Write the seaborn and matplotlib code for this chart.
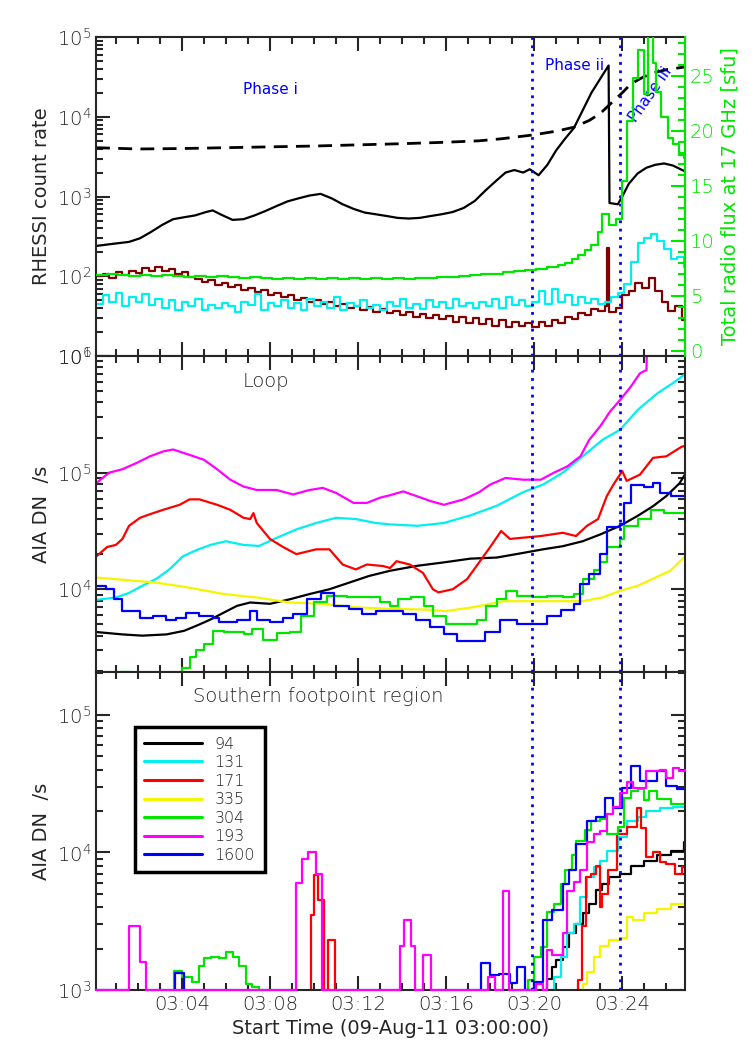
import matplotlib
matplotlib.use("Agg")
import matplotlib.pyplot as plt
import seaborn as sns
from matplotlib.ticker import MultipleLocator, FuncFormatter, LogLocator

sns.set_style("ticks")
plt.rcParams["font.family"] = ["DejaVu Sans"]
plt.rcParams["font.weight"] = "light"

# ---- time axis (minutes after 03:00:00) ----
phase_lines = [19.9, 23.9]

# ---- top panel: RHESSI + radio ----
hxr_lo_t = [0.1, 0.6, 1.1, 1.6, 2.1, 2.6, 3.1, 3.6, 4.1, 4.6, 5.1, 5.4, 5.8, 6.3, 6.8, 7.3, 7.8, 8.3,
            8.8, 9.3, 9.8, 10.3, 10.8, 11.3, 11.8, 12.3, 12.8, 13.3, 13.8, 14.3, 14.8, 15.3, 15.8,
            16.3, 16.8, 17.3, 17.8, 18.3, 18.7, 19.1, 19.5, 19.8, 20.2, 20.6, 21.0, 21.4, 21.8, 22.2,
            22.6, 23.0, 23.38, 23.42, 23.8, 24.0, 24.3, 24.7, 25.1, 25.5, 25.9, 26.3, 26.8]
hxr_lo = [240, 250, 260, 270, 300, 360, 440, 520, 550, 580, 640, 670, 590, 510, 520, 580, 660, 760,
          870, 950, 1030, 1080, 950, 800, 700, 630, 600, 570, 540, 530, 540, 570, 600,
          640, 720, 880, 1200, 1600, 2000, 2150, 2000, 2200, 1850, 2500, 3800, 5300, 7200, 12000,
          20000, 30000, 44000, 830, 800, 1000, 1450, 1950, 2300, 2500, 2600, 2450, 2100]

bkg_t = [0.1, 2, 4, 6, 8, 10, 12, 14, 16, 17.5, 18.5, 19.9, 21, 21.8, 22.5, 23.0, 23.4, 24.0,
         24.4, 25.0, 25.5, 26.0, 26.8]
bkg = [4100, 3950, 4000, 4100, 4200, 4300, 4450, 4600, 4800, 5000, 5300, 5900, 6600, 7400, 9000,
       11000, 14000, 20000, 26000, 32000, 36000, 39000, 42000]

hxr_mid_t = [0.1, 0.4, 0.7, 1.0, 1.3, 1.6, 1.9, 2.2, 2.5, 2.8, 3.1, 3.4, 3.7, 4.0, 4.3, 4.6, 4.9,
             5.2, 5.5, 5.8, 6.1, 6.4, 6.7, 7.0, 7.3, 7.6, 7.9, 8.2, 8.5, 8.8, 9.1, 9.4, 9.7, 10.0,
             10.3, 10.6, 10.9, 11.2, 11.5, 11.8, 12.1, 12.4, 12.7, 13.0, 13.3, 13.6, 13.9, 14.2,
             14.5, 14.8, 15.1, 15.4, 15.7, 16.0, 16.3, 16.6, 16.9, 17.2, 17.5, 17.8, 18.1, 18.4,
             18.7, 19.0, 19.3, 19.6, 19.9, 20.2, 20.5, 20.8, 21.1, 21.4, 21.7, 22.0, 22.3, 22.6,
             22.9, 23.2, 23.3, 23.4, 23.7, 24.0, 24.3, 24.6, 24.9, 25.2, 25.5, 25.8, 26.1, 26.4,
             26.7, 27.0]
hxr_mid = [100, 108, 96, 112, 104, 118, 110, 128, 118, 130, 115, 122, 106, 112, 98, 92, 86,
           90, 78, 82, 74, 78, 68, 72, 64, 67, 58, 62, 55, 58, 50, 54, 47, 50,
           45, 47, 42, 45, 40, 43, 38, 41, 36, 39, 35, 37, 33, 36,
           31, 34, 30, 33, 29, 32, 27, 31, 26, 30, 25, 29, 24, 28,
           23, 27, 24, 26, 23, 27, 24, 28, 26, 31, 29, 35, 33, 39,
           37, 42, 225, 36, 40, 58, 66, 82, 72, 94, 66, 48, 37, 42,
           28, 28]

hxr_hi_t = [0.1, 0.4, 0.7, 1.0, 1.3, 1.6, 1.9, 2.2, 2.5, 2.8, 3.1, 3.4, 3.7, 4.0, 4.3, 4.6, 4.9,
            5.2, 5.5, 5.8, 6.1, 6.4, 6.7, 7.0, 7.3, 7.6, 7.9, 8.2, 8.5, 8.8, 9.1, 9.4, 9.7, 10.0,
            10.3, 10.6, 10.9, 11.2, 11.5, 11.8, 12.1, 12.4, 12.7, 13.0, 13.3, 13.6, 13.9, 14.2,
            14.5, 14.8, 15.1, 15.4, 15.7, 16.0, 16.3, 16.6, 16.9, 17.2, 17.5, 17.8, 18.1, 18.4,
            18.7, 19.0, 19.3, 19.6, 19.9, 20.2, 20.5, 20.8, 21.1, 21.4, 21.7, 22.0, 22.3, 22.6,
            22.9, 23.2, 23.5, 23.8, 24.1, 24.4, 24.7, 25.0, 25.3, 25.6, 25.9, 26.2, 26.5, 26.8, 27.0]
hxr_hi = [45, 58, 48, 62, 42, 55, 47, 60, 44, 52, 40, 50, 38, 48, 42, 52, 38,
          44, 40, 46, 42, 36, 48, 44, 60, 38, 46, 42, 50, 40, 46, 38, 52, 42,
          48, 40, 55, 38, 46, 42, 50, 40, 44, 38, 48, 42, 52, 40,
          45, 39, 50, 41, 47, 40, 52, 42, 46, 40, 48, 42, 52, 40,
          55, 44, 50, 42, 48, 65, 45, 70, 48, 58, 44, 55, 46, 52,
          45, 48, 55, 62, 80, 150, 260, 300, 340, 280, 220, 165, 175, 130, 130]

radio_t = [0.1, 0.6, 1.1, 1.6, 2.1, 2.6, 3.1, 3.6, 4.1, 4.6, 5.1, 5.6, 6.1, 6.6, 7.1, 7.6, 8.1,
           8.6, 9.1, 9.6, 10.1, 10.6, 11.1, 11.6, 12.1, 12.6, 13.1, 13.6, 14.1, 14.6, 15.1, 15.6,
           16.1, 16.6, 17.1, 17.6, 18.1, 18.6, 19.1, 19.6, 20.1, 20.6, 21.1, 21.4, 21.7, 22.0,
           22.3, 22.6, 22.9, 23.1, 23.4, 23.7, 24.0, 24.2, 24.5, 24.7, 25.0, 25.15, 25.4, 25.55,
           25.75, 26.1, 26.3, 26.6, 26.8, 27.0]
radio = [6.9, 7.0, 6.9, 6.8, 6.9, 6.8, 6.9, 6.8, 6.7, 6.8, 6.7, 6.8, 6.7, 6.6, 6.7, 6.6, 6.5,
         6.6, 6.5, 6.6, 6.5, 6.6, 6.5, 6.6, 6.5, 6.6, 6.5, 6.6, 6.5, 6.6, 6.6, 6.7,
         6.7, 6.8, 6.9, 7.0, 7.0, 7.1, 7.2, 7.3, 7.4, 7.6, 7.8, 8.0, 8.3, 8.7,
         9.1, 9.6, 10.8, 12.4, 11.4, 12.0, 15.4, 20.9, 24.8, 27.3, 23.3, 30.0, 26.1, 23.5,
         21.2, 19.3, 18.8, 17.8, 17.5, 17.5]

# ---- middle panel: loop ----
l94_t = [0.1, 1.3, 2.2, 3.3, 4.1, 4.7, 5.3, 5.9, 6.5, 7.1, 8.0, 8.9, 9.8, 10.7, 11.6, 12.5, 13.45,
         14.7, 15.9, 17.1, 18.3, 19.5, 20.4, 21.3, 22.2, 23.0, 23.9, 24.7, 25.4, 26.0, 26.6, 26.9]
l94 = [4300, 4100, 4000, 4100, 4400, 4900, 5500, 6300, 7200, 7700, 7500, 8200, 9100, 10000, 11400,
       13000, 14400, 15900, 17000, 18300, 18700, 20500, 22000, 23400, 25800, 29500, 35000, 42600,
       51600, 63000, 81000, 100000]

l131_t = [0.1, 1.0, 1.6, 2.2, 2.85, 3.45, 4.05, 4.7, 5.3, 6.0, 6.8, 7.5, 8.3, 9.2, 10.1, 11.0, 11.9,
          12.8, 13.45, 14.7, 15.9, 17.1, 18.3, 19.5, 20.4, 21.3, 22.2, 23.1, 23.9, 24.7, 25.6, 26.3,
          26.9]
l131 = [8100, 8500, 9300, 10700, 12300, 14900, 19200, 21800, 24000, 25800, 24000, 23500, 27600,
        32600, 37000, 41000, 40000, 37000, 36000, 35000, 37000, 43000, 52000, 68000, 79000,
        100000, 138000, 191000, 233000, 345000, 480000, 585000, 710000]

l171_t = [0.1, 0.6, 1.0, 1.3, 1.6, 2.1, 2.55, 3.15, 3.9, 4.35, 4.8, 5.6, 6.2, 6.8, 7.1, 7.25, 7.4,
          8.0, 8.6, 9.2, 10.1, 10.7, 11.3, 11.9, 12.4, 13.15, 13.45, 13.75, 14.35, 14.95, 15.4,
          15.65, 16.3, 16.95, 17.5, 18.0, 18.5, 18.9, 19.5, 20.3, 21.3, 21.9, 22.4, 22.9, 23.3,
          23.6, 24.0, 24.2, 24.8, 25.4, 26.0, 26.7, 26.9]
l171 = [19000, 23000, 24000, 27000, 35000, 41000, 44000, 48000, 53000, 59000, 59000, 53000, 48000,
        41000, 40000, 45000, 37000, 27000, 23000, 20000, 22000, 22000, 16300, 14800, 16300, 15800,
        15200, 17400, 16300, 13800, 10000, 9400, 10000, 12200, 17000, 23000, 31600, 27000, 27700,
        28600, 30500, 28600, 35000, 40000, 63000, 79000, 103000, 85000, 96000, 134000, 138000,
        167000, 170000]

l335_t = [0.1, 2.85, 4.35, 5.9, 7.4, 8.9, 10.4, 11.9, 13.45, 15.0, 16.0, 17.2, 18.6, 19.8, 21.0,
          22.2, 23.1, 23.9, 24.7, 25.4, 26.2, 26.9]
l335 = [12600, 11400, 10300, 9100, 8500, 7700, 7500, 7000, 6800, 6700, 6500, 7000, 7900, 7900,
        7900, 7900, 8500, 9700, 10700, 12300, 14500, 19500]

l304_t = [0.1, 1.2, 1.7, 4.0, 4.35, 4.65, 5.0, 5.4, 5.9, 6.3, 6.8, 7.2, 7.7, 8.3, 8.9, 9.4, 10.0,
          10.6, 11.5, 12.2, 13.0, 13.45, 13.8, 14.4, 15.0, 15.4, 16.0, 16.8, 17.4, 17.8, 18.3, 18.7,
          19.2, 19.95, 20.6, 21.3, 21.8, 22.2, 22.7, 23.0, 23.3, 23.9, 24.1, 24.7, 25.3, 25.9, 27.0]
l304 = [1500, 1960, 1500, 2100, 2600, 3000, 3400, 4400, 4300, 4300, 4100, 4600, 3700, 4200, 4300,
        5900, 7700, 8700, 8500, 8500, 7700, 7200, 8200, 8500, 7200, 5900, 5000, 5000, 5400, 7200,
        8200, 9700, 8700, 8500, 8700, 8500, 9100, 12200, 14500, 17000, 23000, 27000, 35000, 40000,
        48000, 45000, 48000]

l193_t = [0.1, 0.7, 1.3, 1.9, 2.55, 3.15, 3.6, 4.35, 5.0, 5.6, 6.2, 6.8, 7.4, 8.3, 9.05, 9.8, 10.4,
          11.0, 11.8, 12.4, 13.0, 13.45, 14.05, 14.65, 15.3, 15.9, 16.8, 17.5, 18.0, 18.7, 19.5,
          20.3, 20.9, 21.5, 22.1, 22.5, 23.0, 23.45, 23.9, 24.4, 24.8, 25.1, 25.15]
l193 = [81000, 100000, 107000, 120000, 138000, 152000, 158000, 142000, 129000, 107000, 87000,
        76000, 71000, 71000, 65000, 71000, 74000, 67000, 55000, 55000, 61000, 64000, 69000, 63000,
        57000, 53000, 59000, 68000, 79000, 90000, 87000, 87000, 100000, 113000, 138000, 191000,
        250000, 335000, 420000, 550000, 710000, 760000, 2000000]

l1600_t = [0.1, 0.55, 0.9, 1.3, 2.1, 2.7, 3.3, 3.75, 4.2, 4.8, 5.4, 5.7, 6.5, 7.1, 7.4, 8.0, 8.6,
           9.05, 9.7, 10.3, 10.9, 11.6, 12.2, 12.8, 13.45, 14.05, 14.65, 15.25, 15.9, 16.5, 17.1,
           17.75, 18.45, 19.2, 20.1, 20.6, 21.2, 21.8, 22.1, 22.5, 23.0, 23.3, 23.9, 24.1, 24.4,
           25.0, 25.4, 25.7, 26.2, 27.0]
l1600 = [10700, 10000, 8200, 6500, 5700, 5900, 5400, 5700, 6300, 5900, 5700, 5200, 5400, 6500,
         5400, 5200, 5700, 6100, 8200, 9300, 7200, 6800, 6100, 6500, 6500, 6100, 5500, 4700, 4100,
         3600, 3600, 4300, 5400, 5000, 5000, 5900, 6700, 7500, 11000, 13500, 20000, 34000, 36000,
         55000, 79000, 76000, 81000, 67000, 63000, 61000]

# ---- bottom panel: southern footpoint ----
f94_t = [0.1, 20.6, 20.8, 21.0, 21.3, 21.6, 21.9, 22.2, 22.5, 22.8, 23.1, 23.4, 23.9, 24.4, 25.0,
         25.6, 26.2, 26.8, 27.0]
f94 = [950, 1200, 1480, 1650, 2060, 2600, 3000, 3600, 4250, 5300, 5900, 6600, 7000, 8000, 8700,
       9500, 10300, 11900, 11900]

f131_t = [0.1, 20.7, 20.9, 21.2, 21.5, 21.8, 22.1, 22.4, 22.7, 23.0, 23.3, 23.8, 24.2, 24.7, 25.1,
          25.7, 26.3, 27.0]
f131 = [950, 1000, 1250, 1740, 2600, 3000, 4700, 6600, 7800, 8700, 10300, 12900, 17000, 18000,
        20000, 21000, 21500, 22500]

f171_t = [0.1, 9.85, 10.0, 10.2, 10.45, 10.65, 10.95, 22.0, 22.15, 22.35, 22.6, 22.8, 23.0, 23.1,
          23.35, 23.75, 24.2, 24.65, 24.85, 25.1, 25.4, 25.7, 26.0, 26.4, 26.7, 27.0]
f171 = [950, 3500, 6800, 4500, 950, 2300, 950, 1180, 2900, 6600, 7000, 8000, 4000, 5000, 7400,
        13700, 15300, 21000, 15000, 9200, 10000, 8500, 8300, 7000, 7800, 7800]

f335_t = [0.1, 22.2, 22.4, 22.7, 23.0, 23.4, 23.9, 24.2, 24.5, 25.0, 25.6, 26.2, 27.0]
f335 = [950, 1100, 1360, 1740, 2100, 2300, 2400, 3400, 3200, 3600, 3900, 4250, 4750]

f304_t = [0.1, 3.65, 4.0, 4.45, 4.8, 5.0, 5.3, 5.7, 6.0, 6.3, 6.6, 6.9, 7.2, 7.5, 19.7, 19.97,
          20.3, 20.6, 20.9, 21.2, 21.4, 21.7, 21.9, 22.3, 22.6, 23.0, 23.3, 23.8, 24.1, 24.4, 24.7,
          25.0, 25.2, 25.6, 26.2, 27.0]
f304 = [950, 1380, 1250, 1150, 1500, 1700, 1740, 1700, 1900, 1740, 1500, 1100, 1050, 950, 1180,
        1740, 2060, 3700, 4250, 5900, 7400, 9500, 12200, 14500, 17000, 17500, 13700, 15300, 25000,
        28000, 29000, 24000, 28000, 24500, 22500, 24500]

f193_t = [0.1, 1.6, 2.1, 2.35, 9.2, 9.45, 9.75, 10.1, 10.35, 13.9, 14.1, 14.4, 14.6, 14.95, 15.3,
          17.9, 18.2, 18.6, 18.85, 20.1, 20.4, 20.6, 20.8, 21.3, 21.5, 21.8, 22.1, 22.4, 22.7, 23.0,
          23.3, 23.6, 23.9, 24.2, 24.5, 25.1, 25.7, 26.0, 26.3, 26.6, 26.85]
f193 = [1000, 2900, 1600, 1000, 6000, 9000, 10000, 7000, 1000, 2100, 3200, 2100, 1000, 1800, 1000,
        1250, 1000, 5200, 1000, 1100, 1000, 1950, 1800, 2600, 5200, 6100, 7400, 11900, 13700,
        14400, 19000, 21400, 26800, 32400, 29500, 39000, 40000, 35000, 41000, 39000, 40000]

f1600_t = [0.1, 3.7, 4.1, 17.6, 18.0, 18.4, 18.9, 19.2, 19.6, 19.97, 20.4, 20.8, 21.3, 21.6, 21.9,
           22.4, 22.8, 23.2, 23.6, 24.0, 24.4, 24.8, 25.6, 26.0, 26.5, 27.0]
f1600 = [950, 1320, 950, 1560, 1290, 1300, 1120, 1480, 1000, 1150, 3200, 3800, 5900, 7400, 11600,
         17000, 18000, 25000, 21000, 29500, 42600, 33000, 39000, 30600, 29000, 27300]

channels = ["94", "131", "171", "335", "304", "193", "1600"]
colors = {"94": "black", "131": "#00f0f0", "171": "#ff0000", "335": "#f5f500",
          "304": "#00e600", "193": "#ff00ff", "1600": "#0000ff"}
loop = {"94": (l94_t, l94, None), "131": (l131_t, l131, None), "171": (l171_t, l171, None),
        "335": (l335_t, l335, None), "304": (l304_t, l304, "steps-post"),
        "193": (l193_t, l193, None), "1600": (l1600_t, l1600, "steps-post")}
foot = {"94": (f94_t, f94), "131": (f131_t, f131), "171": (f171_t, f171), "335": (f335_t, f335),
        "304": (f304_t, f304), "193": (f193_t, f193), "1600": (f1600_t, f1600)}

FS = 14
fig = plt.figure(figsize=(7.53, 10.59), dpi=100)
left, width = 0.1275, 0.7822
ax1 = fig.add_axes([left, 0.6638, width, 0.3012])
ax2 = fig.add_axes([left, 0.3654, width, 0.2984], sharex=ax1)
ax3 = fig.add_axes([left, 0.0652, width, 0.3003], sharex=ax1)

lw = 1.6
# top panel
sns.lineplot(x=hxr_lo_t, y=hxr_lo, ax=ax1, color="black", lw=lw, estimator=None)
sns.lineplot(x=bkg_t, y=bkg, ax=ax1, color="black", lw=2, estimator=None, linestyle=(0, (5, 3)))
sns.lineplot(x=hxr_mid_t, y=hxr_mid, ax=ax1, color="#800000", lw=lw, estimator=None,
             drawstyle="steps-post")
sns.lineplot(x=hxr_hi_t, y=hxr_hi, ax=ax1, color="#00f0f0", lw=lw, estimator=None,
             drawstyle="steps-post")
ax1.set_yscale("log")
ax1.set_ylim(10, 1e5)
ax1.set_ylabel("RHESSI count rate", fontsize=FS)

axr = ax1.twinx()
sns.lineplot(x=radio_t, y=radio, ax=axr, color="#00e600", lw=lw, estimator=None,
             drawstyle="steps-post")
axr.set_ylim(-0.5, 28.5)
axr.yaxis.set_major_locator(MultipleLocator(5))
axr.yaxis.set_minor_locator(MultipleLocator(1))
axr.tick_params(axis="y", which="both", direction="in", colors="#00e600", labelsize=FS,
                width=1.5)
axr.tick_params(axis="y", which="major", length=10)
axr.tick_params(axis="y", which="minor", length=5)
axr.spines["right"].set_color("#00e600")
axr.spines["right"].set_linewidth(1.5)
for s in ["top", "left", "bottom"]:
    axr.spines[s].set_visible(False)
axr.set_ylabel("Total radio flux at 17 GHz [sfu]", color="#00e600", fontsize=FS)

ax1.text(6.77, 2.2e4, "Phase i", color="blue", fontsize=11, ha="left", va="center",
         fontweight="normal")
ax1.text(20.5, 4.4e4, "Phase ii", color="blue", fontsize=11, ha="left", va="center",
         fontweight="normal")
ax1.text(25.3, 1.9e4, "Phase iii", color="blue", fontsize=11, ha="center", va="center",
         rotation=55, fontweight="normal")

# middle panel
for ch in channels:
    t, v, ds = loop[ch]
    kw = {"drawstyle": ds} if ds else {}
    sns.lineplot(x=t, y=v, ax=ax2, color=colors[ch], lw=lw, estimator=None, **kw)
ax2.set_yscale("log")
ax2.set_ylim(1.95e3, 1e6)
ax2.set_ylabel("AIA DN  /s", fontsize=FS)
ax2.text(7.8, 6.0e5, "Loop", fontsize=FS, ha="center", va="center")

# bottom panel
for ch in channels:
    t, v = foot[ch]
    sns.lineplot(x=t, y=v, ax=ax3, color=colors[ch], lw=lw, estimator=None,
                 drawstyle="steps-post", label=ch)
ax3.lines[5].set_clip_on(False)
ax3.lines[5].set_zorder(3)
ax3.set_yscale("log")
ax3.set_ylim(1e3, 2.05e5)
ax3.set_ylabel("AIA DN  /s", fontsize=FS)
ax3.text(10.2, 1.35e5, "Southern footpoint region", fontsize=FS, ha="center", va="center")
leg = ax3.legend(loc="upper left", bbox_to_anchor=(0.052, 0.852), fontsize=11.5,
                 frameon=True, fancybox=False, framealpha=1, edgecolor="black",
                 handlelength=3.6, labelspacing=0.22, borderpad=0.6, handletextpad=0.8)
leg.get_frame().set_linewidth(2.5)
leg.set_zorder(5)
for line in leg.get_lines():
    line.set_linewidth(2.2)

for ax in (ax1, ax2, ax3):
    for xv in phase_lines:
        ax.axvline(xv, color="blue", lw=2, linestyle=(0, (1, 2)))
    ax.set_xlim(0.1, 26.85)
    ax.xaxis.set_major_locator(MultipleLocator(4))
    ax.xaxis.set_minor_locator(MultipleLocator(1))
    ax.yaxis.set_minor_locator(LogLocator(base=10, subs=range(2, 10)))
    ax.tick_params(which="both", direction="in", top=True, width=1.5, labelsize=FS,
                   right=(ax is not ax1))
    ax.tick_params(which="major", length=10)
    ax.tick_params(which="minor", length=5)
    for s in ax.spines.values():
        s.set_linewidth(1.5)
    ax.set_xlabel("")

ax1.tick_params(labelbottom=False)
ax2.tick_params(labelbottom=False)
ax3.xaxis.set_major_formatter(FuncFormatter(lambda t, p: "03:%02d" % int(round(t))))
ax3.set_xlabel("Start Time (09-Aug-11 03:00:00)", fontsize=FS)

fig.savefig("out.png", dpi=100)
